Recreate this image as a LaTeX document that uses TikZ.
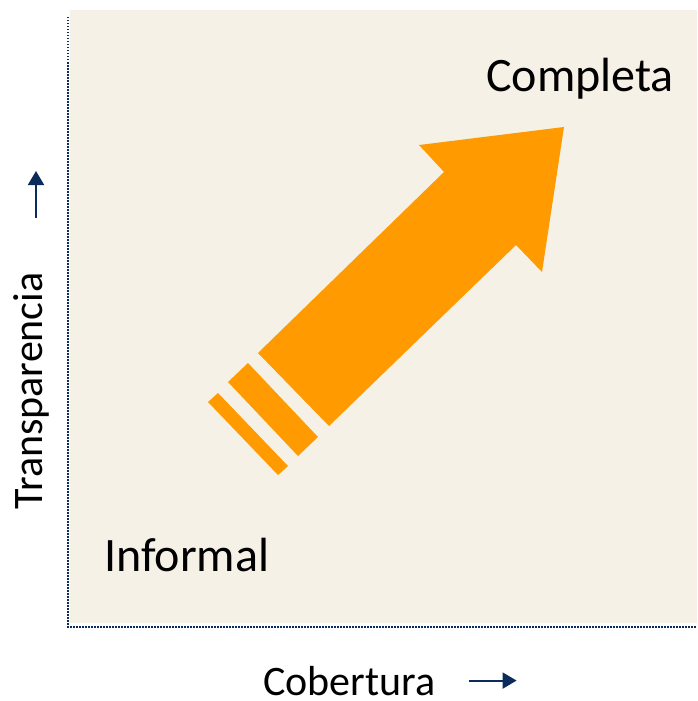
\documentclass[tikz,border=0pt]{standalone}
\usepackage{fontspec}
\setmainfont{Carlito}
\usepackage{xcolor}
\usetikzlibrary{positioning}
\usetikzlibrary{arrows.meta}
\definecolor{panel}{HTML}{F6F1E7}
\definecolor{navy}{HTML}{0B2B5B}
\definecolor{flecha}{HTML}{FF9B00}
\tikzstyle{corner} = [inner sep=0pt, font=\fontsize{48}{52}\selectfont]
\tikzstyle{axislabel} = [inner sep=0pt, font=\fontsize{42}{46}\selectfont]
\tikzstyle{axis} = [draw=navy, line width=1.5pt, dash pattern=on 1.5pt off 1.5pt]
\tikzstyle{arrow} = [draw=navy, line width=2pt, -{Triangle[width=16pt,length=14pt]}]
\tikzstyle{band} = [fill=flecha, draw=none]

\begin{document}
\begin{tikzpicture}[x=1pt, y=-1pt]
        \useasboundingbox (0,0) rectangle (697,701);
        \fill [panel] (70,10) rectangle (697,623);
        \draw [axis] (68,17) -- (68,627) -- (697,627);

        \node (completa) [corner, anchor=base west] at (486,91) {Completa};
        \node (informal) [corner, anchor=base west] at (104,571) {Informal};
        \node (transparencia) [axislabel, rotate=90, anchor=base] at (42,391) {Transparencia};
        \node (cobertura) [axislabel, anchor=base west] at (263,695) {Cobertura};

        % flecha grande
        \coordinate (tailUp) at (258,353);
        \coordinate (notchL) at (444,172);
        \coordinate (barbL) at (419,145);
        \coordinate (tip) at (564,127);
        \coordinate (barbR) at (542,272);
        \coordinate (notchR) at (516,245);
        \coordinate (tailLow) at (329,426);
        \fill [band] (tailUp) -- (notchL) -- (barbL) -- (tip) -- (barbR) -- (notchR) -- (tailLow) -- cycle;
        \fill [band] (228,382) -- (248,363) -- (318,437) -- (298,456) -- cycle;
        \fill [band] (208,402) -- (218,393) -- (288,466) -- (278,475) -- cycle;

        \coordinate (upTail) at (36,218);
        \coordinate (upHead) at (36,171);
        \coordinate [right=33pt of cobertura] (cobTail);
        \coordinate [right=48pt of cobTail] (cobHead);
        \draw [arrow] (upTail) -- (upHead);
        \draw [arrow] (cobTail) -- (cobHead);
    \end{tikzpicture}
\end{document}
